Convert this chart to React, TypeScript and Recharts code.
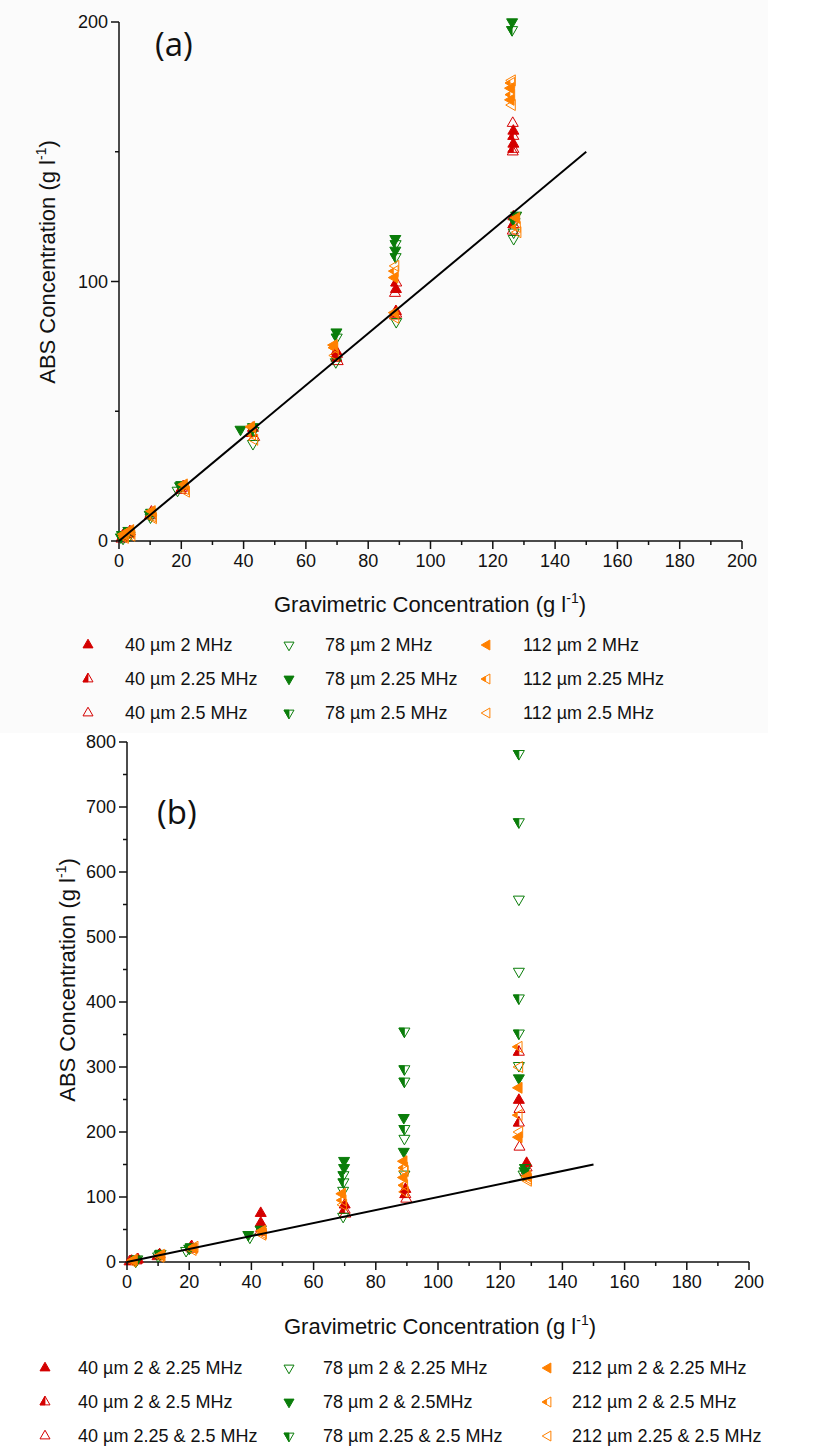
import { ScatterChart, Scatter, XAxis, YAxis } from 'recharts';

type Pt = [number, number];
type Dir = 'up' | 'down' | 'left';
type Fill = 'full' | 'half' | 'open';

const RED = '#d40000';
const GREEN = '#0a7d0a';
const ORANGE = '#ff8000';
const FONT = '"Liberation Sans", Arial, sans-serif';

// shared axis ticks
const xTicks = [0, 10, 20, 30, 40, 50, 60, 70, 80, 90, 100, 110, 120, 130, 140, 150, 160, 170, 180, 190, 200];
const yTicksA = [0, 50, 100, 150, 200];
const yTicksB = [0, 50, 100, 150, 200, 250, 300, 350, 400, 450, 500, 550, 600, 650, 700, 750, 800];
const fitLine: Pt[] = [[0, 0], [150, 150]];

// panel (a): [gravimetric, ABS] per size / frequency
const a40_2: Pt[] = [[1.0, 1.4], [3.3, 3.0], [10.2, 10.6], [20.6, 21.0], [43.0, 43.5], [69.8, 70.5], [69.8, 73.0], [88.9, 88.5], [88.9, 97.0], [126.6, 125.0], [126.6, 153.0], [126.6, 158.0]];
const a40_225: Pt[] = [[1.2, 2.0], [3.5, 3.6], [10.0, 9.8], [20.2, 20.4], [42.6, 41.5], [70.0, 72.0], [89.0, 87.5], [89.0, 99.5], [126.6, 122.0], [126.6, 151.0], [126.6, 156.0]];
const a40_25: Pt[] = [[0.8, 0.8], [3.0, 2.6], [10.4, 11.2], [19.8, 19.6], [43.4, 40.0], [70.2, 69.2], [88.6, 86.8], [88.6, 95.5], [126.4, 119.5], [126.4, 150.0], [126.4, 161.0]];
const a78_2: Pt[] = [[1.3, 1.0], [3.4, 2.2], [10.1, 9.2], [18.8, 19.5], [43.0, 37.5], [69.6, 69.0], [89.0, 84.5], [126.7, 116.5], [126.7, 119.0]];
const a78_225: Pt[] = [[0.6, 1.5], [3.0, 4.0], [10.3, 11.0], [19.6, 21.2], [39.0, 43.0], [43.0, 44.0], [69.8, 80.5], [88.7, 116.5], [88.7, 112.0], [127.5, 125.5], [126.2, 200.0]];
const a78_25: Pt[] = [[1.0, 2.4], [3.2, 3.3], [9.9, 10.2], [20.0, 21.6], [43.2, 42.5], [69.9, 78.5], [88.8, 114.5], [88.8, 109.5], [127.0, 123.0], [126.2, 197.0]];
const a112_2: Pt[] = [[1.5, 2.6], [3.7, 4.2], [10.6, 11.5], [20.9, 21.8], [42.5, 44.0], [69.0, 75.5], [88.5, 101.5], [88.5, 88.0], [127.6, 124.5], [125.8, 170.0], [125.8, 174.5]];
const a112_225: Pt[] = [[1.8, 1.8], [3.9, 3.0], [10.8, 9.5], [21.3, 20.0], [42.8, 41.0], [69.2, 74.5], [88.6, 104.0], [127.8, 121.0], [126.0, 172.0], [126.0, 176.5]];
const a112_25: Pt[] = [[2.0, 1.2], [4.1, 2.0], [11.0, 8.8], [21.6, 19.0], [43.5, 39.0], [69.4, 71.5], [88.8, 106.0], [88.8, 86.0], [128.0, 119.0], [126.2, 168.0], [126.2, 177.5]];

// panel (b)
const b40_a: Pt[] = [[1.5, 1.5], [3.5, 4.0], [10.5, 11.5], [20.5, 22.0], [43.0, 75.0], [43.0, 60.0], [70.0, 88.0], [89.5, 112.0], [126.0, 249.0], [128.5, 152.0]];
const b40_b: Pt[] = [[1.2, 1.0], [3.2, 3.0], [10.2, 10.0], [20.8, 24.0], [43.2, 52.0], [70.0, 80.0], [89.5, 104.0], [126.0, 214.0], [126.0, 323.0], [128.5, 145.0]];
const b40_c: Pt[] = [[0.8, 0.5], [3.0, 2.0], [9.8, 8.5], [21.0, 20.0], [42.8, 46.0], [70.2, 74.0], [89.8, 97.0], [126.2, 177.0], [126.2, 235.0], [128.2, 138.0]];
const b78_a: Pt[] = [[2.8, 1.0], [10.0, 9.0], [19.0, 17.5], [39.5, 38.0], [69.5, 110.0], [69.5, 70.0], [89.2, 135.0], [89.2, 190.0], [126.0, 302.0], [126.0, 447.0], [126.0, 558.0], [127.5, 135.0]];
const b78_b: Pt[] = [[3.0, 3.0], [10.5, 12.0], [20.0, 21.0], [39.0, 42.0], [69.8, 156.0], [69.8, 145.0], [89.0, 222.0], [89.0, 170.0], [126.0, 283.0], [127.8, 140.0]];
const b78_c: Pt[] = [[3.3, 4.5], [10.8, 13.0], [20.5, 23.0], [43.0, 50.0], [69.6, 134.0], [69.6, 123.0], [89.2, 355.0], [89.2, 297.0], [89.2, 278.0], [89.2, 205.0], [126.0, 782.0], [126.0, 677.0], [126.0, 406.0], [126.0, 352.0], [128.0, 145.0]];
const b212_a: Pt[] = [[2.0, 2.5], [11.0, 11.0], [21.5, 21.0], [43.5, 48.0], [69.2, 105.0], [89.0, 155.0], [89.0, 130.0], [126.0, 268.0], [126.0, 192.0], [128.8, 132.0]];
const b212_b: Pt[] = [[2.3, 3.5], [11.2, 9.5], [21.8, 23.5], [43.8, 44.0], [69.4, 95.0], [89.2, 145.0], [89.2, 118.0], [126.0, 331.0], [126.0, 226.0], [129.0, 128.0]];
const b212_c: Pt[] = [[1.8, 0.8], [10.8, 8.0], [21.2, 18.5], [43.6, 42.0], [69.6, 88.0], [89.4, 140.0], [89.4, 108.0], [126.2, 200.0], [126.2, 300.0], [129.0, 125.0]];

const labelsA = ['40 µm 2 MHz', '40 µm 2.25 MHz', '40 µm 2.5 MHz', '78 µm 2 MHz', '78 µm 2.25 MHz', '78 µm 2.5 MHz', '112 µm 2 MHz', '112 µm 2.25 MHz', '112 µm 2.5 MHz'];
const labelsB = ['40 µm 2 & 2.25 MHz', '40 µm 2 & 2.5 MHz', '40 µm 2.25 & 2.5 MHz', '78 µm 2 & 2.25 MHz', '78 µm 2 & 2.5MHz', '78 µm 2.25 & 2.5 MHz', '212 µm 2 & 2.25 MHz', '212 µm 2 & 2.5 MHz', '212 µm 2.25 & 2.5 MHz'];

// marker style per legend slot (column = size, row = frequency)
const STYLES: { color: string; dir: Dir; fill: Fill }[] = [
  { color: RED, dir: 'up', fill: 'full' },
  { color: RED, dir: 'up', fill: 'half' },
  { color: RED, dir: 'up', fill: 'open' },
  { color: GREEN, dir: 'down', fill: 'open' },
  { color: GREEN, dir: 'down', fill: 'full' },
  { color: GREEN, dir: 'down', fill: 'half' },
  { color: ORANGE, dir: 'left', fill: 'full' },
  { color: ORANGE, dir: 'left', fill: 'half' },
  { color: ORANGE, dir: 'left', fill: 'open' },
];

const toPts = (arr: Pt[]) => arr.map(([x, y]) => ({ x, y }));

const seriesA = [a40_2, a40_225, a40_25, a78_2, a78_225, a78_25, a112_2, a112_225, a112_25];
const seriesB = [b40_a, b40_b, b40_c, b78_a, b78_b, b78_c, b212_a, b212_b, b212_c];

const poly = (p: number[][]) => p.map((q) => q.join(',')).join(' ');

function Marker({ cx, cy, dir, fill, color, s = 11 }: { cx: number; cy: number; dir: Dir; fill: Fill; color: string; s?: number }) {
  const h = s * 0.866;
  let pts: number[][];
  let half: number[][];
  if (dir === 'up') {
    const top = cy - (h * 2) / 3, bot = cy + h / 3;
    pts = [[cx, top], [cx - s / 2, bot], [cx + s / 2, bot]];
    half = [[cx, top], [cx - s / 2, bot], [cx, bot]];
  } else if (dir === 'down') {
    const bot = cy + (h * 2) / 3, top = cy - h / 3;
    pts = [[cx - s / 2, top], [cx + s / 2, top], [cx, bot]];
    half = [[cx - s / 2, top], [cx, top], [cx, bot]];
  } else {
    const tip = cx - (h * 2) / 3, back = cx + h / 3;
    const mid = cx - h / 6;
    pts = [[tip, cy], [back, cy - s / 2], [back, cy + s / 2]];
    half = [[tip, cy], [mid, cy - s / 4], [mid, cy + s / 4]];
  }
  return (
    <g>
      <polygon points={poly(pts)} fill={fill === 'full' ? color : 'none'} stroke={color} strokeWidth={1} />
      {fill === 'half' && <polygon points={poly(half)} fill={color} stroke={color} strokeWidth={0.8} />}
    </g>
  );
}

const makeXTick = (major: number) => (props: any) => {
  const { x, y, payload } = props;
  const isMajor = payload.value % major === 0;
  return (
    <g>
      <line x1={x} y1={y} x2={x} y2={y + (isMajor ? 8 : 4)} stroke="#111" strokeWidth={1.5} />
      {isMajor && (
        <text x={x} y={y + 13} dy="0.71em" textAnchor="middle" fontFamily={FONT} fontSize={18} fill="#111">
          {payload.value}
        </text>
      )}
    </g>
  );
};

const makeYTick = (major: number) => (props: any) => {
  const { x, y, payload } = props;
  const isMajor = payload.value % major === 0;
  return (
    <g>
      <line x1={x} y1={y} x2={x - (isMajor ? 8 : 4)} y2={y} stroke="#111" strokeWidth={1.5} />
      {isMajor && (
        <text x={x - 11} y={y} dy="0.35em" textAnchor="end" fontFamily={FONT} fontSize={18} fill="#111">
          {payload.value}
        </text>
      )}
    </g>
  );
};

function Panel({ data, yMax, yTicks, yMajor, height, margin }: any) {
  return (
    <ScatterChart width={828} height={height} margin={margin}>
      <XAxis
        type="number"
        dataKey="x"
        domain={[0, 200]}
        ticks={xTicks}
        interval={0}
        tickSize={0}
        tickMargin={0}
        tickLine={false}
        height={65}
        axisLine={{ stroke: '#111', strokeWidth: 1.5 }}
        tick={makeXTick(20)}
      />
      <YAxis
        type="number"
        dataKey="y"
        domain={[0, yMax]}
        ticks={yTicks}
        interval={0}
        tickSize={0}
        tickMargin={0}
        tickLine={false}
        width={60}
        axisLine={{ stroke: '#111', strokeWidth: 1.5 }}
        tick={makeYTick(yMajor)}
      />
      {data.map((arr: Pt[], i: number) => {
        const st = STYLES[i];
        return (
          <Scatter
            key={i}
            data={toPts(arr)}
            isAnimationActive={false}
            shape={(p: any) => <Marker cx={p.cx} cy={p.cy} dir={st.dir} fill={st.fill} color={st.color} />}
          />
        );
      })}
      <Scatter
        data={toPts(fitLine)}
        isAnimationActive={false}
        line={{ stroke: '#000', strokeWidth: 2 }}
        shape={() => <g />}
      />
    </ScatterChart>
  );
}

const textStyle = { fontFamily: FONT, color: '#111', whiteSpace: 'nowrap' as const, position: 'absolute' as const, lineHeight: 1 };

function AxisTitle({ text, cx, cy, rotate }: { text: string; cx: number; cy: number; rotate?: boolean }) {
  return (
    <div
      style={{
        ...textStyle,
        left: cx,
        top: cy,
        fontSize: 22,
        transform: `translate(-50%, -50%)${rotate ? ' rotate(-90deg)' : ''}`,
      }}
    >
      {text} (g l<span style={{ fontSize: 14, position: 'relative', top: -9 }}>-1</span>)
    </div>
  );
}

function Legend({ labels, top, markerX, textX }: { labels: string[]; top: number; markerX: number[]; textX: number[] }) {
  const rowGap = 34;
  return (
    <>
      {labels.map((lab, i) => {
        const col = Math.floor(i / 3);
        const row = i % 3;
        const cy = top + row * rowGap;
        const st = STYLES[i];
        return (
          <div key={i}>
            <svg style={{ position: 'absolute', left: markerX[col] - 8, top: cy - 8 }} width={16} height={16}>
              <Marker cx={8} cy={8} dir={st.dir} fill={st.fill} color={st.color} s={10} />
            </svg>
            <div style={{ ...textStyle, left: textX[col], top: cy - 9, fontSize: 18 }}>{lab}</div>
          </div>
        );
      })}
    </>
  );
}

export default function App() {
  return (
    <div style={{ position: 'absolute', left: 0, top: 0, width: 828, height: 1446, background: '#fff', overflow: 'hidden' }}>
      <div style={{ position: 'absolute', left: 0, top: 0, width: 768, height: 733, background: '#fbfbfb' }} />
      <div style={{ position: 'absolute', left: 0, top: 0 }}>
        <Panel data={seriesA} yMax={200} yTicks={yTicksA} yMajor={100} height={625} margin={{ top: 22, right: 86, left: 59, bottom: 19 }} />
      </div>
      <div style={{ ...textStyle, fontFamily: '"Open Sans", "Noto Sans", sans-serif', left: 155, top: 27, fontSize: 33 }}>(a)</div>
      <AxisTitle text="Gravimetric Concentration" cx={430} cy={605} />
      <AxisTitle text="ABS Concentration" cx={48} cy={262} rotate />
      <Legend labels={labelsA} top={645} markerX={[88, 289, 487]} textX={[125, 325, 523]} />

      <div style={{ position: 'absolute', left: 0, top: 730 }}>
        <Panel data={seriesB} yMax={800} yTicks={yTicksB} yMajor={100} height={620} margin={{ top: 12, right: 79, left: 67, bottom: 23 }} />
      </div>
      <div style={{ ...textStyle, fontFamily: '"Open Sans", "Noto Sans", sans-serif', left: 157, top: 795, fontSize: 33 }}>(b)</div>
      <AxisTitle text="Gravimetric Concentration" cx={440} cy={1327} />
      <AxisTitle text="ABS Concentration" cx={68} cy={980} rotate />
      <Legend labels={labelsB} top={1368} markerX={[45, 289, 548]} textX={[78, 323, 572]} />
    </div>
  );
}
